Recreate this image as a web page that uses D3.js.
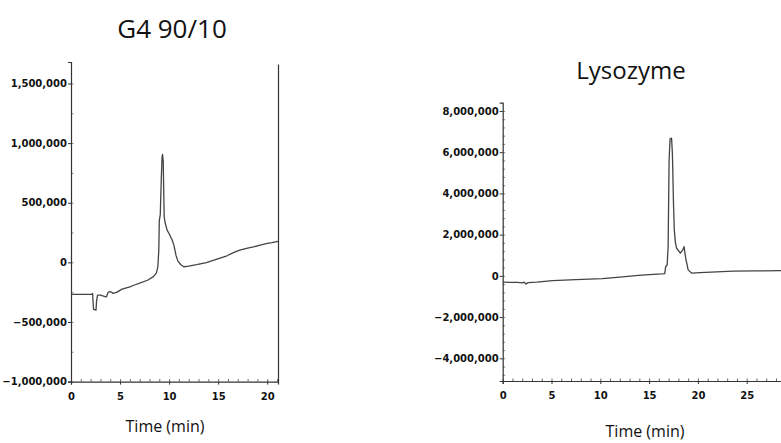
<!DOCTYPE html>
<html>
<head>
<meta charset="utf-8">
<script src="https://cdn.jsdelivr.net/npm/d3@7.9.0/dist/d3.min.js"></script>
<style>
  body { margin: 0; background: #fff; }
  svg { display: block; }
  .tick text { font-family: "DejaVu Sans", sans-serif; font-weight: bold; font-size: 10px; fill: #111; }
  .title, .xlabel { font-family: "Open Sans", sans-serif; fill: #111; }
</style>
</head>
<body>
<svg id="chart" width="781" height="443"></svg>
<script>
// G4 90/10 trace
const g4Time = [0, 2.1, 2.2, 2.25, 2.3, 2.55, 2.6, 2.7, 3.0, 3.4, 3.6, 3.8, 4.0, 4.3, 4.7, 5.2, 6.0, 6.4, 7.0, 7.8, 8.4, 8.7, 8.85, 8.95, 9.0, 9.1, 9.2, 9.28, 9.33, 9.4, 9.45, 9.5, 9.6, 9.8, 10.0, 10.3, 10.5, 10.7, 10.9, 11.2, 11.5, 12.0, 12.8, 13.8, 14.8, 15.9, 16.5, 17.2, 18.0, 18.6, 19.3, 20.0, 20.5, 21.1];
const g4Signal = [-268000, -268000, -260000, -330000, -395000, -400000, -330000, -275000, -275000, -285000, -290000, -250000, -245000, -260000, -250000, -225000, -205000, -192000, -175000, -150000, -120000, -90000, -40000, 100000, 350000, 400000, 690000, 880000, 905000, 850000, 600000, 380000, 330000, 270000, 240000, 190000, 140000, 60000, 10000, -20000, -37000, -32000, -20000, -3000, 25000, 55000, 80000, 103000, 120000, 130000, 145000, 159000, 165000, 175000];

// Lysozyme trace
const lysoTime = [0, 1.5, 2.0, 2.2, 2.37, 2.6, 3.5, 5.1, 7.5, 10.2, 12.0, 13.6, 15.0, 16.3, 16.6, 16.7, 16.85, 16.95, 17.05, 17.15, 17.3, 17.38, 17.41, 17.5, 17.58, 17.7, 17.82, 18.2, 18.45, 18.58, 18.75, 19.0, 19.37, 20.2, 23.6, 26.0, 28.5, 30];
const lysoSignal = [-306000, -320000, -340000, -300000, -400000, -330000, -300000, -228000, -180000, -131000, -60000, 16000, 60000, 97000, 110000, 452000, 530000, 1420000, 5630000, 6650000, 6680000, 6000000, 5470000, 3500000, 2230000, 1600000, 1340000, 1100000, 1260000, 1420000, 860000, 290000, 131000, 160000, 228000, 240000, 257000, 265000];

const g4XTicks = [0, 5, 10, 15, 20];
const g4YTicks = [-1000000, -500000, 0, 500000, 1000000, 1500000];
const lysoXTicks = [0, 5, 10, 15, 20, 25];
const lysoYTicks = [-4000000, -2000000, 0, 2000000, 4000000, 6000000, 8000000];

const svg = d3.select('#chart');
const fmt = d3.format(',');

function drawPanel(p) {
  const x = d3.scaleLinear().domain(p.xDomain).range(p.xRange);
  const y = d3.scaleLinear().domain(p.yDomain).range(p.yRange);
  const g = svg.append('g');

  // minor ticks
  g.append('g')
    .attr('transform', `translate(0,${p.yRange[0]})`)
    .call(d3.axisTop(x).tickValues(d3.range(p.xDomain[0], p.xDomain[1] + 0.001, 1)).tickSize(2.5).tickFormat(''))
    .call((s) => s.select('.domain').remove())
    .selectAll('line').attr('stroke', '#666');
  g.append('g')
    .attr('transform', `translate(${p.xRange[0]},0)`)
    .call(d3.axisRight(y).tickValues(d3.range(p.yDomain[0] - p.yDomain[0] % p.yMinor, p.yDomain[1], p.yMinor)).tickSize(2.5).tickFormat(''))
    .call((s) => s.select('.domain').remove())
    .selectAll('line').attr('stroke', '#888');

  const xAxis = g.append('g')
    .attr('transform', `translate(0,${p.yRange[0]})`)
    .call(d3.axisBottom(x).tickValues(p.xTicks).tickSize(3).tickPadding(8).tickFormat(d3.format('d')));
  const yAxis = g.append('g')
    .attr('transform', `translate(${p.xRange[0]},0)`)
    .call(d3.axisLeft(y).tickValues(p.yTicks).tickSize(3).tickPadding(1).tickFormat(fmt));
  [xAxis, yAxis].forEach((a) => {
    a.select('.domain').attr('stroke', '#333').attr('stroke-width', 1.2);
    a.selectAll('.tick line').attr('stroke', '#333');
  });

  if (p.rightBorder) {
    g.append('g')
      .attr('transform', `translate(${p.xRange[1]},0)`)
      .call(d3.axisRight(y.copy().range([p.yRange[0], p.yRange[1] + 2])).tickValues([]).tickSizeOuter(0))
      .select('.domain').attr('stroke', '#333').attr('stroke-width', 1.2);
  }

  const line = d3.line().x((d, i) => x(p.time[i])).y((d) => y(d));
  g.append('path')
    .datum(p.signal)
    .attr('d', line)
    .attr('fill', 'none')
    .attr('stroke', '#444')
    .attr('stroke-width', 1.3)
    .attr('stroke-linejoin', 'round');

  g.append('text').attr('class', 'title')
    .attr('x', p.titlePos[0]).attr('y', p.titlePos[1])
    .attr('text-anchor', 'middle').attr('font-size', p.titleSize)
    .text(p.title);
  g.append('text').attr('class', 'xlabel')
    .attr('x', p.labelPos[0]).attr('y', p.labelPos[1])
    .attr('text-anchor', 'middle').attr('font-size', 16)
    .text('Time (min)');
}

drawPanel({
  time: g4Time, signal: g4Signal,
  xDomain: [0, 21.1], xRange: [71, 278],
  yDomain: [-1000000, 1680000], yRange: [381.6, 62],
  xTicks: g4XTicks, yTicks: g4YTicks, yMinor: 250000,
  rightBorder: true,
  title: 'G4 90/10', titlePos: [172, 38], titleSize: 26,
  labelPos: [165, 431.5]
});

drawPanel({
  time: lysoTime, signal: lysoSignal,
  xDomain: [0, 30], xRange: [502.7, 795.5],
  yDomain: [-5100000, 8400000], yRange: [381, 102.7],
  xTicks: lysoXTicks, yTicks: lysoYTicks, yMinor: 400000,
  rightBorder: false,
  title: 'Lysozyme', titlePos: [631, 78.5], titleSize: 24,
  labelPos: [645, 437]
});
</script>
</body>
</html>
